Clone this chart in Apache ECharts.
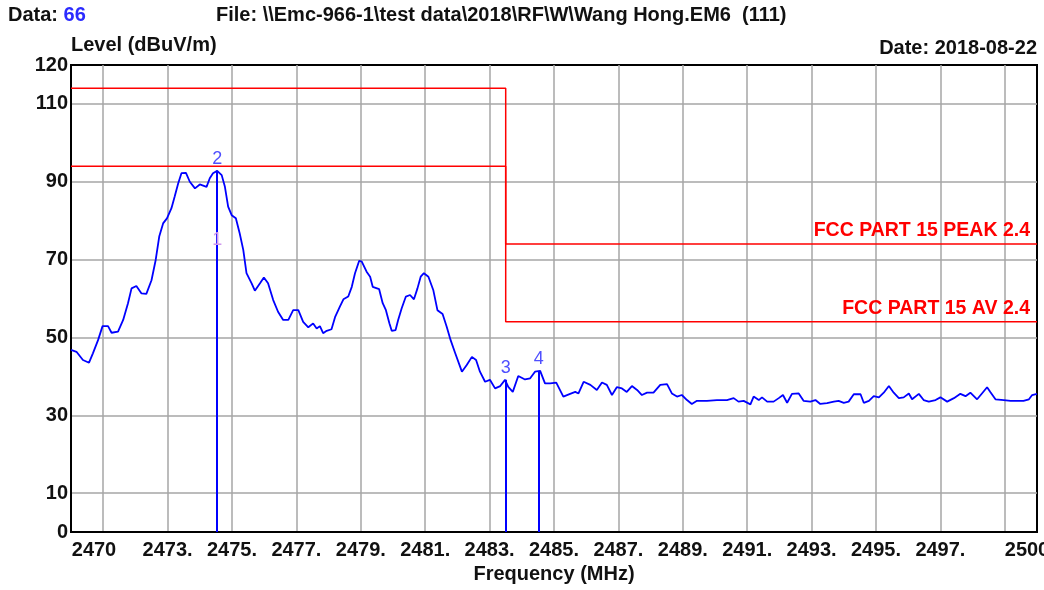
<!DOCTYPE html>
<html><head><meta charset="utf-8">
<script src="https://cdn.jsdelivr.net/npm/echarts@6/dist/echarts.min.js"></script>
<style>html,body{margin:0;padding:0;background:#fff}#c{width:1044px;height:590px}</style>
</head><body><div id="c"></div>
<script>
// ---- data ----
const freqMHz = [2470.00,2470.17,2470.37,2470.56,2470.68,2470.84,2470.98,2471.15,2471.26,2471.46,2471.62,2471.77,2471.88,2472.03,2472.19,2472.34,2472.50,2472.63,2472.74,2472.86,2472.98,2473.12,2473.22,2473.33,2473.43,2473.57,2473.69,2473.85,2474.00,2474.21,2474.31,2474.41,2474.54,2474.68,2474.78,2474.88,2474.99,2475.12,2475.24,2475.35,2475.45,2475.61,2475.71,2475.87,2475.99,2476.12,2476.28,2476.43,2476.59,2476.75,2476.90,2477.06,2477.21,2477.37,2477.52,2477.63,2477.73,2477.83,2477.94,2478.09,2478.20,2478.35,2478.46,2478.61,2478.72,2478.82,2478.95,2479.03,2479.18,2479.29,2479.37,2479.57,2479.68,2479.78,2479.89,2479.96,2480.08,2480.16,2480.27,2480.40,2480.53,2480.65,2480.76,2480.86,2480.96,2481.10,2481.25,2481.38,2481.54,2481.67,2481.79,2481.93,2482.14,2482.29,2482.45,2482.58,2482.70,2482.86,2483.01,2483.17,2483.33,2483.48,2483.58,2483.72,2483.89,2484.10,2484.26,2484.41,2484.57,2484.72,2484.88,2485.07,2485.29,2485.50,2485.66,2485.76,2485.92,2486.13,2486.33,2486.49,2486.64,2486.80,2486.95,2487.11,2487.26,2487.42,2487.58,2487.73,2487.89,2488.09,2488.30,2488.51,2488.66,2488.82,2488.97,2489.13,2489.28,2489.44,2489.75,2490.06,2490.37,2490.58,2490.73,2490.89,2491.10,2491.20,2491.36,2491.46,2491.62,2491.82,2491.98,2492.11,2492.24,2492.39,2492.60,2492.75,2492.96,2493.12,2493.27,2493.48,2493.69,2493.84,2494.00,2494.15,2494.31,2494.52,2494.62,2494.78,2494.93,2495.09,2495.24,2495.40,2495.55,2495.71,2495.86,2496.02,2496.12,2496.33,2496.48,2496.64,2496.85,2497.00,2497.21,2497.42,2497.62,2497.78,2497.93,2498.14,2498.29,2498.45,2498.55,2498.71,2498.97,2499.18,2499.39,2499.58,2499.75,2499.85,2500.00];
const levelDbuV = [46.8,46.3,44.2,43.5,45.9,49.3,52.9,52.9,51.2,51.5,54.5,58.8,62.6,63.2,61.3,61.2,64.7,69.9,75.9,79.3,80.6,83.2,86.2,89.6,92.2,92.3,90.0,88.3,89.3,88.7,90.9,92.2,92.8,91.7,88.7,83.6,81.4,80.6,76.7,72.5,66.5,63.9,62.0,63.9,65.4,63.9,59.6,56.6,54.5,54.5,57.0,57.0,54.0,52.6,53.6,52.3,52.9,51.1,51.7,52.1,55.2,57.9,59.8,60.5,63.0,66.5,69.7,69.5,66.9,65.6,63.0,62.4,58.8,57.0,53.6,51.7,51.9,54.5,57.5,60.5,60.9,59.8,62.6,65.6,66.5,65.6,62.2,57.0,56.0,52.7,49.3,46.0,41.2,42.9,45.0,44.2,41.2,38.6,39.1,36.9,37.5,39.1,37.3,36.0,40.1,39.2,39.5,41.2,41.4,38.2,38.2,38.4,34.8,35.5,36.0,35.6,38.6,37.8,36.5,38.4,37.8,35.2,37.2,36.9,36.0,37.5,36.5,35.2,35.8,35.8,37.8,38.0,35.6,34.8,35.2,33.9,32.9,33.7,33.7,33.9,33.9,34.4,33.5,33.7,32.8,34.8,33.9,34.6,33.5,33.5,34.4,35.2,33.2,35.5,35.6,33.7,33.5,33.9,32.9,33.1,33.5,33.7,33.2,33.5,35.4,35.4,33.2,33.7,34.9,34.6,35.8,37.5,35.8,34.4,34.6,35.6,34.1,35.5,33.9,33.5,33.9,34.6,33.5,34.4,35.5,34.9,35.8,34.1,35.6,37.2,36.0,34.1,33.9,33.7,33.7,33.7,34.1,35.2,35.5];

const markerNames = ['1', '2', '3', '4'];
const markerFreqMHz = [2474.54, 2474.54, 2483.5, 2484.53];
const markerLevel = [72.0, 92.8, 39.1, 41.4];

const peakLimitFreq = [2470, 2483.5, 2483.5, 2500];
const peakLimitLevel = [114, 114, 74, 74];
const avLimitFreq = [2470, 2483.5, 2483.5, 2500];
const avLimitLevel = [94, 94, 54, 54];
const peakLimitName = 'FCC PART 15 PEAK 2.4';
const avLimitName = 'FCC PART 15 AV 2.4';

const yGridValues = [10, 30, 50, 70, 90, 110];
const yLabelValues = [0, 10, 30, 50, 70, 90, 110, 120];
const xGridValues = [2471, 2473, 2475, 2477, 2479, 2481, 2483, 2485, 2487, 2489, 2491, 2493, 2495, 2497, 2499];
const xLabelValues = [2470, 2473, 2475, 2477, 2479, 2481, 2483, 2485, 2487, 2489, 2491, 2493, 2495, 2497, 2500];

const headerData = '66';
const headerFile = 'File: \\\\Emc-966-1\\test data\\2018\\RF\\W\\Wang Hong.EM6';
const headerRun = '(111)';
const headerDate = 'Date: 2018-08-22';

// ---- chart ----
const FONT = '"Liberation Sans", Arial, sans-serif';
const FS = 20;
const zip = (a, b) => a.map((v, i) => [v, b[i]]);
const chart = echarts.init(document.getElementById('c'), null, {renderer: 'canvas'});

chart.setOption({
  animation: false,
  backgroundColor: '#ffffff',
  textStyle: {fontFamily: FONT},
  title: [
    {left: 8, top: 5, padding: 0, text: '{a|Data: }{b|' + headerData + '}',
     textStyle: {rich: {
       a: {fontFamily: FONT, fontWeight: 'bold', fontSize: FS, color: '#111'},
       b: {fontFamily: FONT, fontWeight: 'bold', fontSize: FS, color: '#2b2bff'}}}},
    {left: 216, top: 5, padding: 0, text: headerFile + '  ' + headerRun,
     textStyle: {fontFamily: FONT, fontWeight: 'bold', fontSize: FS, color: '#111'}},
    {right: 7, top: 38, padding: 0, text: headerDate,
     textStyle: {fontFamily: FONT, fontWeight: 'bold', fontSize: FS, color: '#111'}}
  ],
  grid: {left: 71, right: 7, top: 65, bottom: 58, outerBoundsMode: 'none', containLabel: false,
         show: true, borderColor: '#000', borderWidth: 2, backgroundColor: 'transparent'},
  xAxis: {
    type: 'value', min: 2470, max: 2500,
    name: 'Frequency (MHz)', nameLocation: 'middle', nameGap: 32,
    nameTextStyle: {fontFamily: FONT, fontWeight: 'bold', fontSize: FS, color: '#111'},
    axisLine: {show: true, onZero: false, lineStyle: {color: '#000', width: 2}},
    axisTick: {show: false, customValues: xGridValues},
    splitLine: {show: true, lineStyle: {color: '#a6a6a6', width: 1.5}},
    axisLabel: {
      customValues: xLabelValues, margin: 8,
      fontFamily: FONT, fontWeight: 'bold', fontSize: FS, color: '#111',
      formatter: v => v === 2470 ? '{l|2470}' : (v === 2500 ? '{r|2500}' : v + '.'),
      rich: {
        l: {fontFamily: FONT, fontWeight: 'bold', fontSize: FS, color: '#111', padding: [0, 0, 0, 46]},
        r: {fontFamily: FONT, fontWeight: 'bold', fontSize: FS, color: '#111', padding: [0, 20, 0, 0]}
      }
    }
  },
  yAxis: {
    type: 'value', min: 0, max: 120,
    name: 'Level (dBuV/m)', nameLocation: 'end', nameGap: 4,
    nameTextStyle: {fontFamily: FONT, fontWeight: 'bold', fontSize: FS, color: '#111', align: 'left', verticalAlign: 'bottom'},
    axisLine: {show: true, lineStyle: {color: '#000', width: 2}},
    axisTick: {show: false, customValues: yGridValues},
    splitLine: {show: true, lineStyle: {color: '#a6a6a6', width: 1.5}},
    axisLabel: {customValues: yLabelValues, margin: 3, fontFamily: FONT, fontWeight: 'bold', fontSize: FS, color: '#111'}
  },
  series: [
    {
      name: peakLimitName, type: 'line', data: zip(peakLimitFreq, peakLimitLevel),
      showSymbol: false, symbol: 'none', lineStyle: {color: '#ff0000', width: 1.5}, z: 3,
      markPoint: {
        symbol: 'circle', symbolSize: 0,
        data: [{coord: [peakLimitFreq[3], peakLimitLevel[3]],
          label: {show: true, formatter: peakLimitName, position: 'left', distance: 7, offset: [0, -13],
            fontFamily: FONT, fontWeight: 'bold', fontSize: 19.5, color: '#ff0000'}}]
      }
    },
    {
      name: avLimitName, type: 'line', data: zip(avLimitFreq, avLimitLevel),
      showSymbol: false, symbol: 'none', lineStyle: {color: '#ff0000', width: 1.5}, z: 3,
      markPoint: {
        symbol: 'circle', symbolSize: 0,
        data: [{coord: [avLimitFreq[3], avLimitLevel[3]],
          label: {show: true, formatter: avLimitName, position: 'left', distance: 7, offset: [0, -13],
            fontFamily: FONT, fontWeight: 'bold', fontSize: 19.5, color: '#ff0000'}}]
      }
    },
    {
      name: 'Level', type: 'line', data: zip(freqMHz, levelDbuV),
      showSymbol: false, symbol: 'none', lineStyle: {color: '#0000ff', width: 1.8}, z: 4,
      markLine: {
        silent: true, symbol: ['none', 'none'],
        lineStyle: {color: '#0000ff', width: 2, type: 'solid'},
        data: markerNames.map((n, i) => [
          {coord: [markerFreqMHz[i], 0], name: n,
           label: {show: true, position: 'end', formatter: n, distance: 3,
             fontFamily: FONT, fontSize: 18, color: i === 0 ? '#cf98ee' : '#4f4fff'}},
          {coord: [markerFreqMHz[i], markerLevel[i]]}
        ])
      }
    }
  ]
});
</script>
</body></html>
